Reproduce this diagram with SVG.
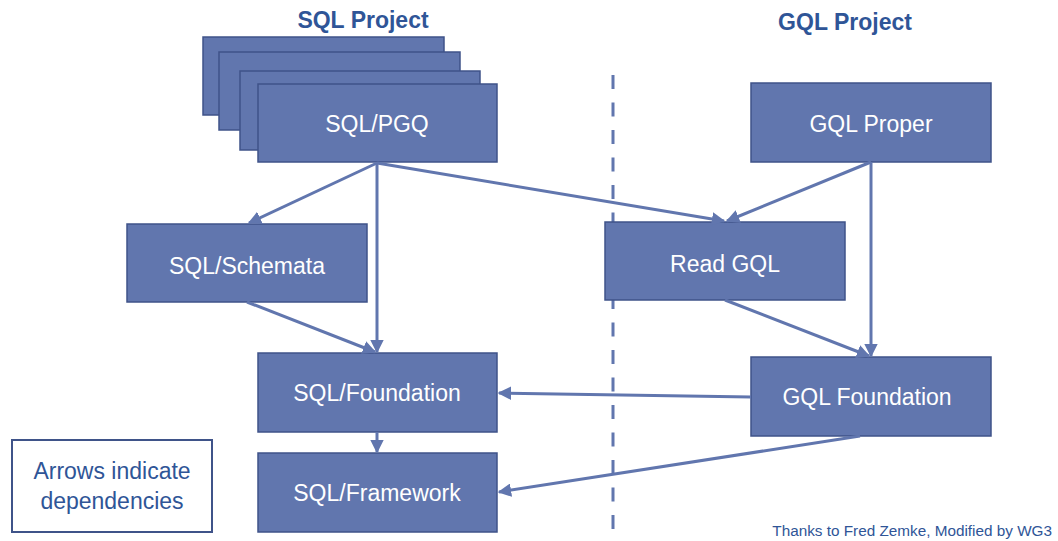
<svg xmlns="http://www.w3.org/2000/svg" width="1058" height="541" viewBox="0 0 1058 541">
<defs>
<style>
.box{fill:#6176ae;stroke:#3f5389;stroke-width:1.5}
.lbl{font-family:"Liberation Sans",Arial,sans-serif;font-size:23px;fill:#ffffff;text-anchor:middle}
.title{font-family:"Liberation Sans",Arial,sans-serif;font-size:23px;font-weight:bold;fill:#2f5597;text-anchor:middle}
.con{stroke:#6176ae;stroke-width:3;fill:none;marker-end:url(#ah)}
</style>
<marker id="ah" viewBox="0 0 10 10" refX="9" refY="5" markerWidth="4.5" markerHeight="4.5" orient="auto" markerUnits="strokeWidth">
<path d="M0,0 L10,5 L0,10 z" fill="#6176ae"/>
</marker>
</defs>
<rect width="1058" height="541" fill="#ffffff"/>
<text class="title" x="363" y="28">SQL Project</text>
<text class="title" x="845" y="30">GQL Project</text>
<line x1="613" y1="75" x2="613" y2="541" stroke="#6176ae" stroke-width="3" stroke-dasharray="14 13.5"/>
<g id="stack">
<rect class="box" x="203" y="37" width="241" height="78"/>
<rect class="box" x="219" y="52" width="241" height="78"/>
<rect class="box" x="240" y="71" width="240" height="79"/>
</g>
<g id="sqlpgq"><rect class="box" x="258" y="84" width="239" height="78"/><text class="lbl" x="377" y="132">SQL/PGQ</text></g>
<g id="gqlproper"><rect class="box" x="751" y="83" width="240" height="79"/><text class="lbl" x="871" y="132">GQL Proper</text></g>
<g id="schemata"><rect class="box" x="127" y="224" width="240" height="78"/><text class="lbl" x="247" y="274">SQL/Schemata</text></g>
<g id="readgql"><rect class="box" x="605" y="222" width="240" height="78"/><text class="lbl" x="725" y="272">Read GQL</text></g>
<g id="sqlfoundation"><rect class="box" x="258" y="353" width="239" height="79"/><text class="lbl" x="377" y="401">SQL/Foundation</text></g>
<g id="gqlfoundation"><rect class="box" x="751" y="357" width="240" height="79"/><text class="lbl" x="867" y="405">GQL Foundation</text></g>
<g id="sqlframework"><rect class="box" x="258" y="453" width="239" height="79"/><text class="lbl" x="377" y="501">SQL/Framework</text></g>
<g id="legend"><rect x="12" y="440" width="200" height="92" fill="#ffffff" stroke="#3f5389" stroke-width="2"/>
<text font-family="Liberation Sans,Arial,sans-serif" font-size="23" fill="#2f5597" text-anchor="middle"><tspan x="112" y="479">Arrows indicate</tspan><tspan x="112" y="509">dependencies</tspan></text></g>
<text font-family="Liberation Sans,Arial,sans-serif" font-size="15.3" fill="#2f5597" text-anchor="end" x="1052" y="536">Thanks to Fred Zemke, Modified by WG3</text>
<g id="connectors">
<path class="con" d="M377,163 L249,223"/>
<path class="con" d="M377,163 L377,352"/>
<path class="con" d="M377,163 L724,221"/>
<path class="con" d="M871,162 L727,221"/>
<path class="con" d="M871,162 L871,356"/>
<path class="con" d="M725,300 L869,356"/>
<path class="con" d="M247,302 L375,352"/>
<path class="con" d="M751,397 L499,393"/>
<path class="con" d="M860,436 L499,492"/>
<path class="con" d="M377,432 L377,452"/>
</g>
</svg>
